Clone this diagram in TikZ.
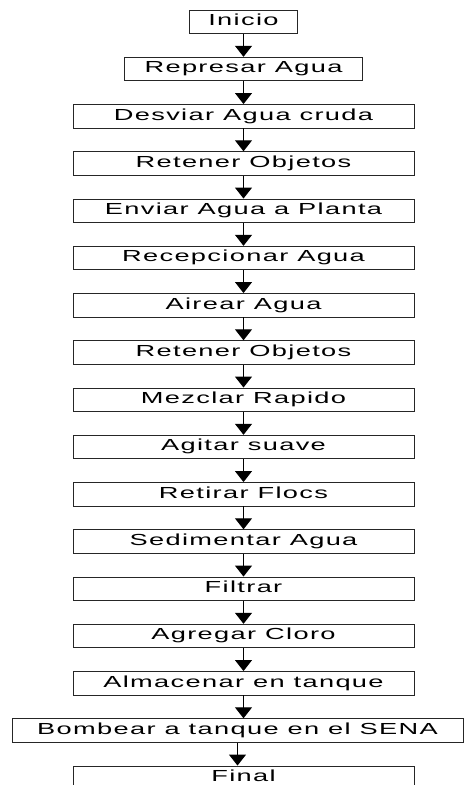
\documentclass[tikz,border=0pt]{standalone}
\usepackage{fontspec}
\setmainfont{Liberation Sans}
\newfontfamily\stepfont[LetterSpace=5]{Liberation Sans}
\usetikzlibrary{arrows.meta}
% wide, slightly letter-spaced label text
\newcommand{\steptext}[1]{\scalebox{1.7}[1]{\stepfont #1}}

\begin{document}
\begin{tikzpicture}[x=1pt,y=-1pt,
  procbox/.style={draw=black!85, line width=0.9pt, inner sep=0pt,
    minimum height=23.5pt, text height=11.5pt, text depth=4pt,
    font=\fontsize{16}{18}\selectfont},
  flow/.style={draw=black, line width=1pt,
    -{Triangle[length=11pt,width=17pt]}}]
\clip (0,0) rectangle (464,785);

\node[procbox, minimum width=108pt] (n0) at (243.5,21.75)  {\steptext{Inicio}};
\node[procbox, minimum width=238pt] (n1) at (243.5,69)     {\steptext{Represar Agua}};
\node[procbox, minimum width=341pt] (n2) at (243.5,116.25) {\steptext{Desviar Agua cruda}};
\node[procbox, minimum width=341pt] (n3) at (243.5,163.5)  {\steptext{Retener Objetos}};
\node[procbox, minimum width=341pt] (n4) at (243.5,210.75) {\steptext{Enviar Agua a Planta}};
\node[procbox, minimum width=341pt] (n5) at (243.5,258)    {\steptext{Recepcionar Agua}};
\node[procbox, minimum width=341pt] (n6) at (243.5,305.25) {\steptext{Airear Agua}};
\node[procbox, minimum width=341pt] (n7) at (243.5,352.5)  {\steptext{Retener Objetos}};
\node[procbox, minimum width=341pt] (n8) at (243.5,399.75) {\steptext{Mezclar Rapido}};
\node[procbox, minimum width=341pt] (n9) at (243.5,447)    {\steptext{Agitar suave}};
\node[procbox, minimum width=341pt] (n10) at (243.5,494.25) {\steptext{Retirar Flocs}};
\node[procbox, minimum width=341pt] (n11) at (243.5,541.5)  {\steptext{Sedimentar Agua}};
\node[procbox, minimum width=341pt] (n12) at (243.5,588.75) {\steptext{Filtrar}};
\node[procbox, minimum width=341pt] (n13) at (243.5,636)    {\steptext{Agregar Cloro}};
\node[procbox, minimum width=341pt] (n14) at (243.5,683.25) {\steptext{Almacenar en tanque}};
\node[procbox, minimum width=451pt] (n15) at (237.5,730.5)  {\steptext{Bombear a tanque en el SENA}};
\node[procbox, minimum width=341pt] (n16) at (243.5,777.75) {\steptext{Final}};

\foreach \a/\b in {n0/n1,n1/n2,n2/n3,n3/n4,n4/n5,n5/n6,n6/n7,n7/n8,
                   n8/n9,n9/n10,n10/n11,n11/n12,n12/n13,n13/n14,n14/n15,n15/n16}
  \draw[flow] (\a.south) -- (\a.south |- \b.north);
\end{tikzpicture}
\end{document}
